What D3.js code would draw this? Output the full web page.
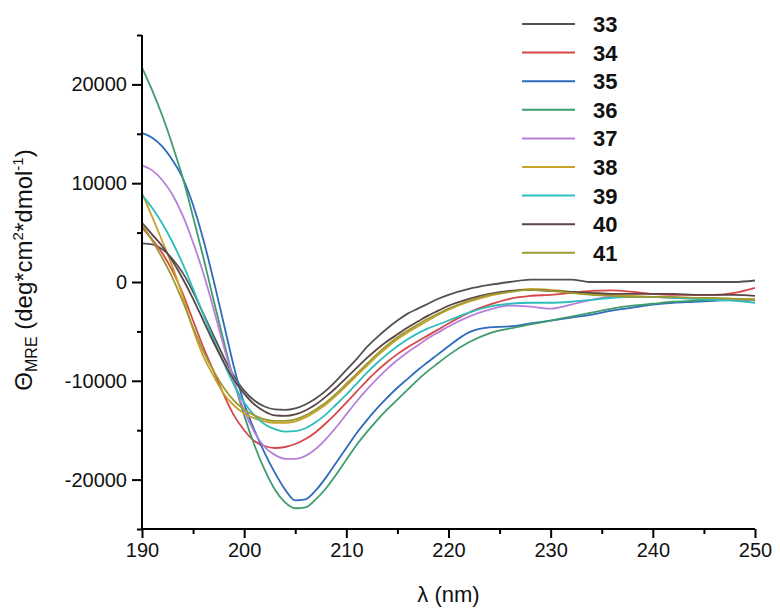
<!DOCTYPE html>
<html><head><meta charset="utf-8">
<script src="https://cdn.jsdelivr.net/npm/d3@7"></script>
<style>body{margin:0;background:#fff}svg{display:block}</style>
</head><body>
<svg id="chart" width="780" height="615"></svg>
<script>
const wavelength = [190,191,192,193,194,195,196,197,198,199,200,201,202,203,204,205,206,207,208,209,210,211,212,213,214,215,216,217,218,219,220,222,224,226,228,230,232,234,236,238,240,242,244,246,248,250];
const seriesNames = ["33","34","35","36","37","38","39","40","41"];
const seriesColors = ["#525252","#d64848","#2f6bbd","#3f9c6c","#b880d8","#c9a22a","#2dbdbd","#5c4545","#9c9a32"];
const s33 = [3900,3800,3300,2300,900,-1000,-3200,-5400,-7600,-9500,-11000,-12000,-12600,-12900,-12950,-12800,-12400,-11800,-11000,-10000,-8900,-7800,-6600,-5600,-4700,-3900,-3200,-2700,-2200,-1700,-1300,-700,-300,0,250,250,250,0,0,0,0,0,0,0,0,150];
const s34 = [5500,4300,2900,1100,-1200,-3900,-6600,-9000,-11400,-13500,-15000,-16100,-16600,-16800,-16700,-16400,-15900,-15200,-14300,-13300,-12200,-11100,-10000,-9000,-8100,-7300,-6600,-6000,-5400,-4800,-4200,-3100,-2300,-1700,-1400,-1300,-1100,-900,-850,-1000,-1200,-1300,-1300,-1300,-1100,-600];
const s35 = [15100,14600,13700,12300,10500,7800,4300,200,-4200,-8600,-12300,-15000,-17300,-19300,-21000,-22100,-22000,-21100,-19800,-18300,-16800,-15300,-14000,-12800,-11700,-10700,-9800,-8900,-8100,-7300,-6500,-5100,-4600,-4500,-4200,-3900,-3600,-3300,-2900,-2600,-2300,-2100,-2000,-1900,-1800,-1800];
const s36 = [21700,19400,16800,13800,10500,6600,2500,-1800,-6000,-10000,-13500,-16500,-19000,-21000,-22300,-22900,-22800,-22000,-20900,-19500,-18000,-16500,-15200,-14000,-12900,-11900,-10900,-9900,-9000,-8200,-7400,-6100,-5200,-4700,-4300,-3900,-3500,-3100,-2700,-2400,-2200,-2000,-1900,-1800,-1800,-1700];
const s37 = [11800,11300,10300,8800,6700,4000,900,-2700,-6500,-10000,-13000,-15200,-16700,-17500,-17900,-17900,-17600,-16900,-15900,-14700,-13400,-12100,-10900,-9800,-8800,-7900,-7100,-6400,-5700,-5100,-4500,-3500,-2800,-2400,-2500,-2700,-2300,-1800,-1500,-1500,-1500,-1600,-1600,-1700,-1800,-1800];
const s38 = [9000,6600,4100,1500,-1500,-4800,-7500,-9500,-11300,-12500,-13300,-13800,-14100,-14250,-14250,-14100,-13700,-13100,-12400,-11500,-10500,-9500,-8500,-7500,-6600,-5800,-5100,-4500,-3900,-3300,-2800,-2000,-1400,-1000,-700,-800,-1000,-1200,-1300,-1400,-1500,-1600,-1600,-1700,-1700,-1700];
const s39 = [8800,7500,5900,4000,1800,-700,-3300,-5800,-8200,-10400,-12200,-13500,-14400,-14900,-15150,-15100,-14800,-14200,-13400,-12400,-11400,-10300,-9200,-8200,-7300,-6500,-5800,-5200,-4700,-4300,-3900,-3100,-2500,-2200,-2100,-2100,-2000,-1800,-1600,-1500,-1500,-1600,-1700,-1800,-1900,-2100];
const s40 = [6000,4800,3600,2100,300,-1700,-3900,-6100,-8100,-9900,-11300,-12400,-13100,-13500,-13550,-13400,-13000,-12400,-11600,-10700,-9700,-8700,-7700,-6800,-6000,-5300,-4600,-4000,-3400,-2900,-2400,-1700,-1200,-900,-800,-900,-1000,-1100,-1200,-1200,-1200,-1200,-1300,-1300,-1300,-1400];
const s41 = [5800,4200,2400,400,-2000,-4600,-7000,-9000,-10700,-12000,-12900,-13500,-13900,-14050,-14050,-13900,-13500,-12900,-12200,-11300,-10300,-9300,-8300,-7300,-6400,-5600,-4900,-4300,-3700,-3200,-2700,-1900,-1300,-1000,-800,-900,-1100,-1300,-1400,-1500,-1500,-1500,-1600,-1600,-1700,-1800];
const xTicks = [190,200,210,220,230,240,250];
const xMinorTicks = [195,205,215,225,235,245];
const yTicks = [-20000,-10000,0,10000,20000];
const yMinorTicks = [-25000,-15000,-5000,5000,15000,25000];

const seriesValues = [s33,s34,s35,s36,s37,s38,s39,s40,s41];
const FONT = "'Liberation Sans', Arial, sans-serif";
const svg = d3.select("#chart");
const mLeft = 142, mRight = 755, mTop = 35, mBottom = 529;
const x = d3.scaleLinear().domain([190,250]).range([mLeft,mRight]);
const y = d3.scaleLinear().domain([-25000,25000]).range([mBottom,mTop]);

// curves
const line = d3.line().x(d => x(d[0])).y(d => y(d[1])).curve(d3.curveMonotoneX);
const plot = svg.append("g");
seriesValues.forEach((vals,i) => {
  plot.append("path")
    .datum(wavelength.map((w,j) => [w, vals[j]]))
    .attr("fill","none").attr("stroke",seriesColors[i]).attr("stroke-width",1.8)
    .attr("d", line);
});

// axes
const plain = d => String(d);
const xAxis = svg.append("g").attr("transform",`translate(0,${mBottom})`)
  .call(d3.axisBottom(x).tickValues(xTicks).tickFormat(plain).tickSize(9).tickPadding(5));
svg.append("g").attr("transform",`translate(0,${mBottom})`)
  .call(d3.axisBottom(x).tickValues(xMinorTicks).tickFormat("").tickSize(5))
  .call(g => g.select(".domain").remove());
const yAxis = svg.append("g").attr("transform",`translate(${mLeft},0)`)
  .call(d3.axisLeft(y).tickValues(yTicks).tickFormat(plain).tickSize(10).tickPadding(5));
svg.append("g").attr("transform",`translate(${mLeft},0)`)
  .call(d3.axisLeft(y).tickValues(yMinorTicks).tickFormat("").tickSize(5))
  .call(g => g.select(".domain").remove());
svg.selectAll(".domain").attr("stroke","#000").attr("stroke-width",2);
svg.selectAll(".tick line").attr("stroke","#000").attr("stroke-width",2);
svg.selectAll(".tick text").attr("font-family",FONT).attr("font-size",20).attr("fill","#111");
xAxis.select(".domain").attr("d",`M${mLeft},0H${mRight}`);
yAxis.select(".domain").attr("d",`M0,${mTop}V${mBottom}`);

// axis titles
svg.append("text").attr("x",(mLeft+mRight)/2).attr("y",602).attr("text-anchor","middle")
  .attr("font-family",FONT).attr("font-size",22).attr("fill","#111").text("λ (nm)");
const yt = svg.append("text").attr("transform","translate(32,270) rotate(-90)")
  .attr("text-anchor","middle").attr("font-family",FONT).attr("font-size",24).attr("fill","#111");
yt.append("tspan").text("Θ");
yt.append("tspan").attr("font-size",16).attr("dy",5).text("MRE");
yt.append("tspan").attr("dy",-5).text(" (deg*cm");
yt.append("tspan").attr("font-size",15).attr("dy",-9).text("2");
yt.append("tspan").attr("dy",9).text("*dmol");
yt.append("tspan").attr("font-size",15).attr("dy",-9).text("-1");
yt.append("tspan").attr("dy",9).text(")");

// legend
const leg = svg.append("g");
seriesNames.forEach((n,i) => {
  const cy = 24 + i*28.6;
  leg.append("line").attr("x1",522).attr("x2",575).attr("y1",cy).attr("y2",cy)
    .attr("stroke",seriesColors[i]).attr("stroke-width",2);
  leg.append("text").attr("x",593).attr("y",cy+8).attr("font-family",FONT)
    .attr("font-weight","bold").attr("font-size",22).attr("fill","#111").text(n);
});
</script>
</body></html>
